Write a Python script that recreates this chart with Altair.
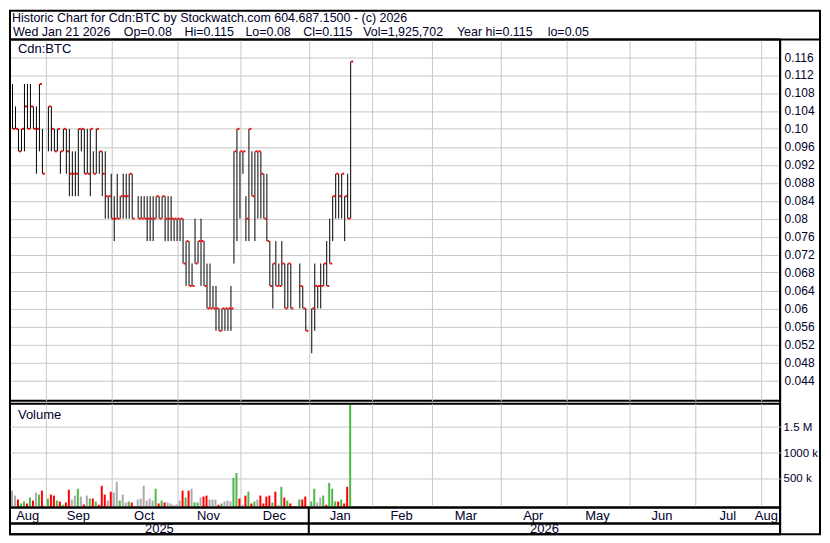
import altair as alt
import numpy as np
import pandas as pd

# ---------------- values ----------------
first_day = "2025-08-15"
last_day = "2026-01-21"
market_holidays = ["2025-09-01", "2025-10-13", "2025-12-25", "2025-12-26", "2026-01-01"]

highs = [
    0.11, 0.105, 0.10, 0.10, 0.11, 0.11, 0.11, 0.105, 0.105, 0.11, 0.10,
    0.105, 0.105, 0.10, 0.10, 0.095, 0.10, 0.10, 0.10, 0.095, 0.095, 0.10,
    0.10, 0.10, 0.10, 0.10, 0.095, 0.10, 0.095, 0.095, 0.095, 0.085,
    0.09, 0.085, 0.09, 0.085, 0.09, 0.09, 0.09, 0.09,
    0.085, 0.085, 0.085, 0.085, 0.085, 0.085, 0.085, 0.085, 0.085, 0.085, 0.085, 0.085, 0.08, 0.08,
    0.08, 0.08, 0.075, 0.075, 0.07, 0.08, 0.075, 0.08, 0.075, 0.07, 0.07, 0.065, 0.065, 0.06,
    0.06, 0.06, 0.06, 0.065, 0.095, 0.10,
    0.095, 0.095, 0.085, 0.10, 0.095, 0.095, 0.095, 0.095, 0.09, 0.09, 0.075, 0.07, 0.075,
    0.07, 0.075, 0.07, 0.07, 0.07, 0.07, 0.065, 0.06,
    0.06, 0.07, 0.065, 0.07, 0.07, 0.075, 0.08, 0.085, 0.09, 0.09, 0.09, 0.085, 0.09, 0.115,
]
lows = [
    0.10, 0.10, 0.095, 0.095, 0.095, 0.10, 0.10, 0.10, 0.09, 0.095, 0.09,
    0.095, 0.095, 0.095, 0.095, 0.09, 0.095, 0.09, 0.085, 0.085, 0.085, 0.085,
    0.095, 0.09, 0.09, 0.085, 0.09, 0.09, 0.09, 0.085, 0.08, 0.08,
    0.08, 0.075, 0.08, 0.08, 0.08, 0.08, 0.08, 0.08,
    0.08, 0.08, 0.08, 0.075, 0.075, 0.075, 0.08, 0.08, 0.08, 0.075, 0.075, 0.075, 0.075, 0.075,
    0.075, 0.07, 0.065, 0.065, 0.065, 0.07, 0.07, 0.065, 0.065, 0.06, 0.06, 0.06, 0.055, 0.055,
    0.055, 0.055, 0.055, 0.055, 0.07, 0.075,
    0.08, 0.09, 0.075, 0.075, 0.085, 0.075, 0.08, 0.08, 0.08, 0.075, 0.065, 0.06, 0.065,
    0.065, 0.065, 0.06, 0.06, 0.06, 0.06, 0.06, 0.055,
    0.05, 0.055, 0.06, 0.06, 0.065, 0.065, 0.07, 0.075, 0.08, 0.08, 0.08, 0.075, 0.08, 0.08,
]
closes = [
    0.10, 0.10, 0.095, 0.10, 0.105, 0.10, 0.105, 0.10, 0.10, 0.11, 0.09,
    0.105, 0.10, 0.095, 0.10, 0.095, 0.10, 0.095, 0.09, 0.09, 0.09, 0.10,
    0.10, 0.09, 0.09, 0.10, 0.09, 0.10, 0.095, 0.09, 0.085, 0.085,
    0.08, 0.08, 0.08, 0.085, 0.085, 0.085, 0.09, 0.08,
    0.08, 0.08, 0.08, 0.08, 0.08, 0.08, 0.085, 0.08, 0.085, 0.08, 0.08, 0.08, 0.08, 0.08,
    0.08, 0.07, 0.075, 0.065, 0.065, 0.07, 0.075, 0.075, 0.065, 0.06, 0.06, 0.06, 0.06, 0.055,
    0.06, 0.06, 0.06, 0.06, 0.095, 0.10,
    0.095, 0.095, 0.08, 0.10, 0.085, 0.095, 0.095, 0.09, 0.08, 0.075, 0.065, 0.07, 0.065,
    0.065, 0.07, 0.06, 0.07, 0.06, 0.065, 0.06, 0.055,
    0.06, 0.065, 0.065, 0.065, 0.07, 0.065, 0.07, 0.085, 0.09, 0.085, 0.09, 0.085, 0.08, 0.115,
]
volumes = [
    275000, 180000, 104000, 28000, 66000, 28000, 142000, 85000, 237000, 199000, 275000,
    123000, 199000, 180000, 85000, 66000, 3000, 47000, 294000, 104000, 180000, 312000,
    161000, 9000, 180000, 123000, 123000, 66000, 3000, 369000, 199000, 85000,
    256000, 237000, 445000, 85000, 199000, 47000, 66000, 47000,
    104000, 123000, 369000, 85000, 123000, 85000, 312000, 28000, 85000, 47000, 47000, 28000, 3000, 9000,
    85000, 275000, 142000, 275000, 312000, 47000, 47000, 142000, 161000, 180000, 104000, 104000, 104000, 3000,
    28000, 66000, 85000, 66000, 521000, 616000,
    123000, 3000, 180000, 256000, 28000, 66000, 104000, 180000, 28000, 161000, 180000, 47000, 256000,
    2000, 350000, 142000, 85000, 28000, 104000, 104000, 161000,
    66000, 312000, 47000, 142000, 180000, 3000, 426000, 312000, 66000, 66000, 104000, 28000, 350000, 1925702,
]

month_starts = ["2025-09-01", "2025-10-01", "2025-11-01", "2025-12-01", "2026-01-01", "2026-02-01",
                "2026-03-01", "2026-04-01", "2026-05-01", "2026-06-01", "2026-07-01", "2026-08-01"]
month_names = ["Aug", "Sep", "Oct", "Nov", "Dec", "Jan", "Feb", "Mar", "Apr", "May", "Jun", "Jul", "Aug"]
year_starts = ["2026-01-01"]
year_names = ["2025", "2026"]
price_ticks = [0.044, 0.048, 0.052, 0.056, 0.06, 0.064, 0.068, 0.072, 0.076, 0.08,
               0.084, 0.088, 0.092, 0.096, 0.10, 0.104, 0.108, 0.112, 0.116]
volume_ticks = [500000, 1000000, 1500000]
volume_tick_labels = ["500 k", "1000 k", "1.5 M"]
symbol = "Cdn:BTC"
panel_name = "Volume"
header_title = "Historic Chart for Cdn:BTC by Stockwatch.com 604.687.1500 - (c) 2026"
header_fields = ["Wed Jan 21 2026", "Op=0.08", "Hi=0.115", "Lo=0.08", "Cl=0.115",
                 "Vol=1,925,702", "Year hi=0.115", "lo=0.05"]
header_field_x = [5, 116, 177, 238, 296, 356, 450, 541]   # layout: left edge of each field, px

# ---------------- styling ----------------
FONT = "Liberation Sans"
INK = "#00002a"
GRID = "#c8c8c8"
GREEN, RED, GRAY = "#4cb848", "#ff0000", "#aaaaaa"

W = 772
PH, VH, MH, YH, GAP = 362, 104, 16, 11, 3
TOTAL_H = PH + GAP + VH + MH + YH
FRAME_W = 812
X0 = -5 / 6
X1 = X0 + W / 3
P_TOP = 0.116 + 17.5 / 4500
P_BOT = P_TOP - PH / 4500
V_TOP = (VH - 2.5) / 52 * 1e6
V_BOT = -2.5 / 52 * 1e6

# ---------------- derived tables ----------------
start = np.datetime64(first_day, "D")
days = [d for d in pd.bdate_range(first_day, last_day) if d.strftime("%Y-%m-%d") not in market_holidays]
slots = [int(np.busday_count(start, np.datetime64(d.strftime("%Y-%m-%d"), "D"))) for d in days]


def boundary_slot(s):
    d = np.busday_offset(np.datetime64(s, "D"), 0, roll="backward")
    return int(np.busday_count(start, d))


month_bounds = [boundary_slot(s) for s in month_starts]
year_bounds = [boundary_slot(s) for s in year_starts]

steps = np.round(np.diff(closes), 4)
direction = ["flat"] + ["up" if s > 0 else ("down" if s < 0 else "flat") for s in steps]

bars = pd.DataFrame({
    "slot": slots,
    "date": [d.strftime("%Y-%m-%d") for d in days],
    "high": highs, "low": lows, "close": closes,
    "volume": volumes, "dir": direction,
})


def cell_mids(edges, pad_right):
    mids = [(a + b) / 2 for a, b in zip(edges[:-1], edges[1:])]
    return [min(m, X1 - pad_right) for m in mids]


m_edges = [X0] + month_bounds + [X1]
month_df = pd.DataFrame({"mid": cell_mids(m_edges, 4.6), "name": month_names})
y_edges = [X0] + year_bounds + [X1]
year_df = pd.DataFrame({"mid": cell_mids(y_edges, 0), "name": year_names})
sep_df = pd.DataFrame({"slot": year_bounds})
one = pd.DataFrame({"k": [0]})

vol_expr = "''"
for v, lab in reversed(list(zip(volume_ticks, volume_tick_labels))):
    vol_expr = f"datum.value == {v} ? '{lab}' : {vol_expr}"

xscale = alt.Scale(domain=[X0, X1], nice=False, zero=False)
grid_axis = alt.Axis(values=month_bounds, grid=True, gridColor=GRID, gridWidth=1,
                     labels=False, ticks=False, domain=False, title=None)
py_scale = alt.Scale(domain=[P_BOT, P_TOP], nice=False, zero=False)
price_axis = alt.Axis(orient="right", values=price_ticks,
                      labelExpr="replace(format(datum.value, '.3f'), regexp('0$'), '')",
                      grid=True, gridColor=GRID, gridWidth=1, ticks=False, domain=False, title=None,
                      labelPadding=4, labelFont=FONT, labelFontSize=12, labelColor=INK)
vy_scale = alt.Scale(domain=[V_BOT, V_TOP], nice=False, zero=False)
vol_axis = alt.Axis(orient="right", values=volume_ticks, labelExpr=vol_expr,
                    grid=True, gridColor=GRID, gridWidth=1, ticks=False, domain=False, title=None,
                    labelPadding=3, labelFont=FONT, labelFontSize=11.5, labelColor=INK)


def label(text, x, y, baseline="middle", size=13):
    return alt.Chart(pd.DataFrame({"t": [text]})).mark_text(
        align="left", baseline=baseline, font=FONT, fontSize=size, color=INK
    ).encode(x=alt.value(x), y=alt.value(y), text="t:N")


base = alt.Chart(bars)

# ---------------- price panel ----------------
hl = base.mark_rule(color="black", strokeWidth=1).encode(
    x=alt.X("slot:Q", scale=xscale, axis=grid_axis),
    y=alt.Y("low:Q", scale=py_scale, axis=price_axis),
    y2="high:Q",
)
cl = base.mark_rect(color=RED, xOffset=0.5, x2Offset=2.5, yOffset=-1, y2Offset=1).encode(
    x=alt.X("slot:Q", scale=xscale, axis=grid_axis),
    x2="slot:Q",
    y=alt.Y("close:Q", scale=py_scale, axis=price_axis),
    y2="close:Q",
)
top_rule = alt.Chart(one).mark_rule(color="black", strokeWidth=2).encode(
    x=alt.value(0), x2=alt.value(FRAME_W), y=alt.value(0))
edge_rule = alt.Chart(one).mark_rule(color="black", strokeWidth=2).encode(
    x=alt.value(W), y=alt.value(0), y2=alt.value(TOTAL_H))
frame = alt.Chart(one).mark_rect(fillOpacity=0, stroke="black", strokeWidth=2).encode(
    x=alt.value(0), x2=alt.value(FRAME_W), y=alt.value(-29), y2=alt.value(TOTAL_H))

header_layers = [label(header_title, 2, -17.5, "alphabetic", 12.5)]
for txt, fx in zip(header_fields, header_field_x):
    header_layers.append(label(txt, fx - 2, -4, "alphabetic", 12.5))

price = alt.layer(
    hl, cl,
    label(symbol, 8, 9),
    *header_layers,
    top_rule, edge_rule, frame,
).properties(width=W, height=PH)

# ---------------- volume panel ----------------
vb = base.mark_rect(xOffset=-1.5, x2Offset=0.5).encode(
    x=alt.X("slot:Q", scale=xscale, axis=grid_axis),
    x2="slot:Q",
    y=alt.Y("volume:Q", scale=vy_scale, axis=vol_axis),
    y2=alt.value(VH),
    color=alt.Color("dir:N", scale=alt.Scale(domain=["up", "down", "flat"], range=[GREEN, RED, GRAY]),
                    legend=None),
)
volume = alt.layer(vb, label(panel_name, 8, 11)).properties(width=W, height=VH)


# ---------------- month / year rows ----------------
def row(df, h):
    sep = alt.Chart(sep_df).mark_rule(color="black", strokeWidth=2).encode(
        x=alt.X("slot:Q", scale=xscale, axis=None), y=alt.value(0), y2=alt.value(h))
    txt = alt.Chart(df).mark_text(font=FONT, fontSize=13, color=INK, baseline="middle").encode(
        x=alt.X("mid:Q", scale=xscale, axis=None), y=alt.value(h / 2 + 0.5), text="name:N")
    return alt.layer(sep, txt).properties(width=W, height=h)


months = row(month_df, MH)
years = row(year_df, YH)

lower = alt.VConcatChart(vconcat=[volume, months, years], spacing=0, bounds="flush")
chart = alt.VConcatChart(vconcat=[price, lower], spacing=GAP, bounds="flush").properties(
    padding=0, background="white"
).configure_view(stroke="black", strokeWidth=2)

chart.save("out.html", embed_options={"renderer": "svg", "actions": False})
